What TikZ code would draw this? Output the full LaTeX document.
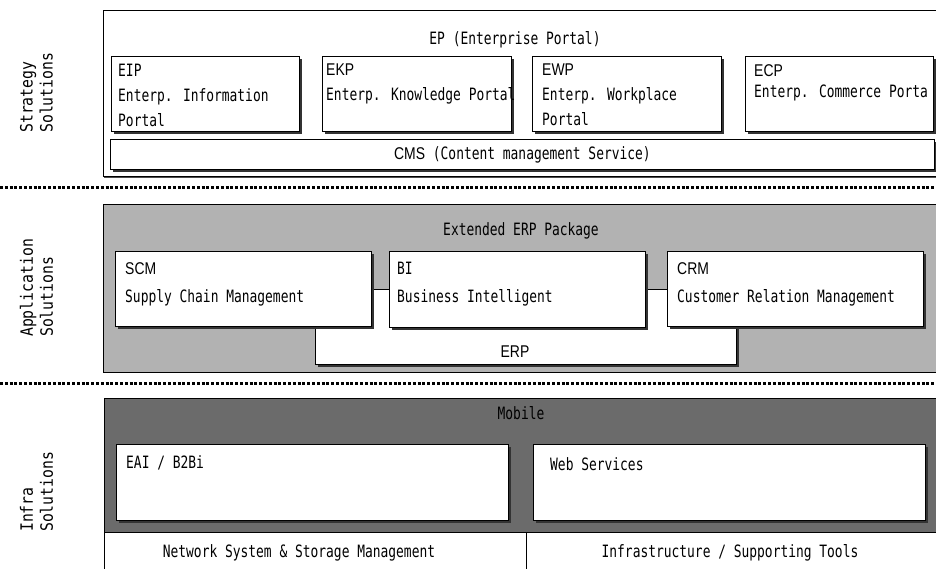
\documentclass[tikz,border=0pt]{standalone}
\usepackage{fontspec}
\setmainfont{DejaVu Sans Mono}[FakeStretch=0.76]
\newfontfamily\codefont{Liberation Sans}[FakeStretch=0.82]
\newfontfamily\sidefont{DejaVu Sans Mono}[FakeStretch=0.87]
\usetikzlibrary{shadows}
\tikzset{
  region/.style={draw, anchor=north west, inner sep=0pt, line width=1pt},
  box/.style={draw, fill=white, anchor=north west, inner sep=0pt, line width=0.9pt,
    drop shadow={shadow xshift=2.5pt, shadow yshift=-2.5pt, fill=black!80, opacity=1}},
  boxtext/.style={anchor=north west, inner sep=0pt, align=left, font=\fontsize{17}{25}\selectfont},
  caption/.style={inner sep=0pt, font=\fontsize{17}{19}\selectfont},
  side/.style={anchor=west, rotate=90, inner sep=0pt, align=left, font=\sidefont\fontsize{17}{20}\selectfont},
  divider/.style={line width=3pt, dash pattern=on 3pt off 1.8pt}
}

\begin{document}
\begin{tikzpicture}[x=1pt,y=-1pt]
  \useasboundingbox (0,0) rectangle (936,568);
  \begin{scope}
    \clip (0,0) rectangle (936,568);
    %% side labels
    \node[side] (strategy) at (36.5,133) {Strategy\\Solutions};
    \node[side] (application) at (36.5,337) {Application\\Solutions};
    \node[side] (infra) at (36.5,532) {Infra\\Solutions};

    %% Strategy
    \node[region, fill=white, minimum width=845pt, minimum height=166pt,
      drop shadow={shadow xshift=0pt, shadow yshift=-1.5pt, fill=black!70, opacity=1}] (ep) at (103,10) {};
    \node[caption] (eptext) at (515,40) {EP (Enterprise Portal)};
    \node[box, minimum width=188pt, minimum height=75pt] (eip) at (111,56) {};
    \node[box, minimum width=189pt, minimum height=75pt] (ekp) at (322,56) {};
    \node[box, minimum width=189pt, minimum height=75pt] (ewp) at (532,56) {};
    \node[box, minimum width=188pt, minimum height=75pt] (ecp) at (745,56) {};
    \node[box, minimum width=824pt, minimum height=30pt] (cms) at (110,139) {};
    \node[boxtext] (eiptext) at ([shift={(7pt,-8pt)}]eip.north west) {EIP\\Enterp. Information\\Portal};
    \node[boxtext] (ekptext) at ([shift={(4pt,-8pt)}]ekp.north west) {{\codefont EKP}\\Enterp. Knowledge Portal};
    \node[boxtext] (ewptext) at ([shift={(10pt,-8pt)}]ewp.north west) {{\codefont EWP}\\Enterp. Workplace\\Portal};
    \node[boxtext] (ecptext) at ([shift={(9pt,-8pt)}]ecp.north west) {{\codefont ECP}\\[-4pt]Enterp. Commerce Porta};
    \node[caption] (cmstext) at (cms.center) {{\codefont CMS} (Content management Service)};

    \draw[divider] (0,187) -- (936,187);

    %% Application
    \node[region, fill=black!30, minimum width=845pt, minimum height=168pt] (app) at (103,204) {};
    \node[caption] (erppackage) at (521,231) {Extended ERP Package};
    \node[box, minimum width=421pt, minimum height=75pt] (erp) at (315,289) {};
    \node[box, minimum width=256pt, minimum height=75pt] (scm) at (115,251) {};
    \node[box, minimum width=256pt, minimum height=76pt] (bi) at (389,251) {};
    \node[box, minimum width=256pt, minimum height=75pt] (crm) at (667,251) {};
    \node[boxtext] (scmtext) at ([shift={(10pt,-11pt)}]scm.north west) {{\codefont SCM}\\[3pt]Supply Chain Management};
    \node[boxtext] (bitext) at ([shift={(8pt,-11pt)}]bi.north west) {BI\\[3pt]Business Intelligent};
    \node[boxtext] (crmtext) at ([shift={(10pt,-11pt)}]crm.north west) {{\codefont CRM}\\[3pt]Customer Relation Management};
    \node[caption] (erptext) at (515,352) {\codefont ERP};

    \draw[divider] (0,383) -- (936,383);

    %% Infra
    \node[region, fill=black!58, minimum width=845pt, minimum height=134pt] (mobile) at (104,398) {};
    \node[caption] (mobiletext) at (521,413) {Mobile};
    \node[box, minimum width=392pt, minimum height=76pt] (eai) at (116,444) {};
    \node[box, minimum width=392pt, minimum height=76pt] (web) at (533,444) {};
    \node[boxtext] (eaitext) at ([shift={(10pt,-11pt)}]eai.north west) {EAI / B2Bi};
    \node[boxtext] (webtext) at ([shift={(17pt,-13pt)}]web.north west) {Web Services};
    \draw (mobile.south west) -- ++(0,40);
    \draw (526,532) -- ++(0,40);
    \node[caption] (network) at (299,553) {Network System \& Storage Management};
    \node[caption] (tools) at (730,553) {Infrastructure / Supporting Tools};
  \end{scope}
\end{tikzpicture}
\end{document}
